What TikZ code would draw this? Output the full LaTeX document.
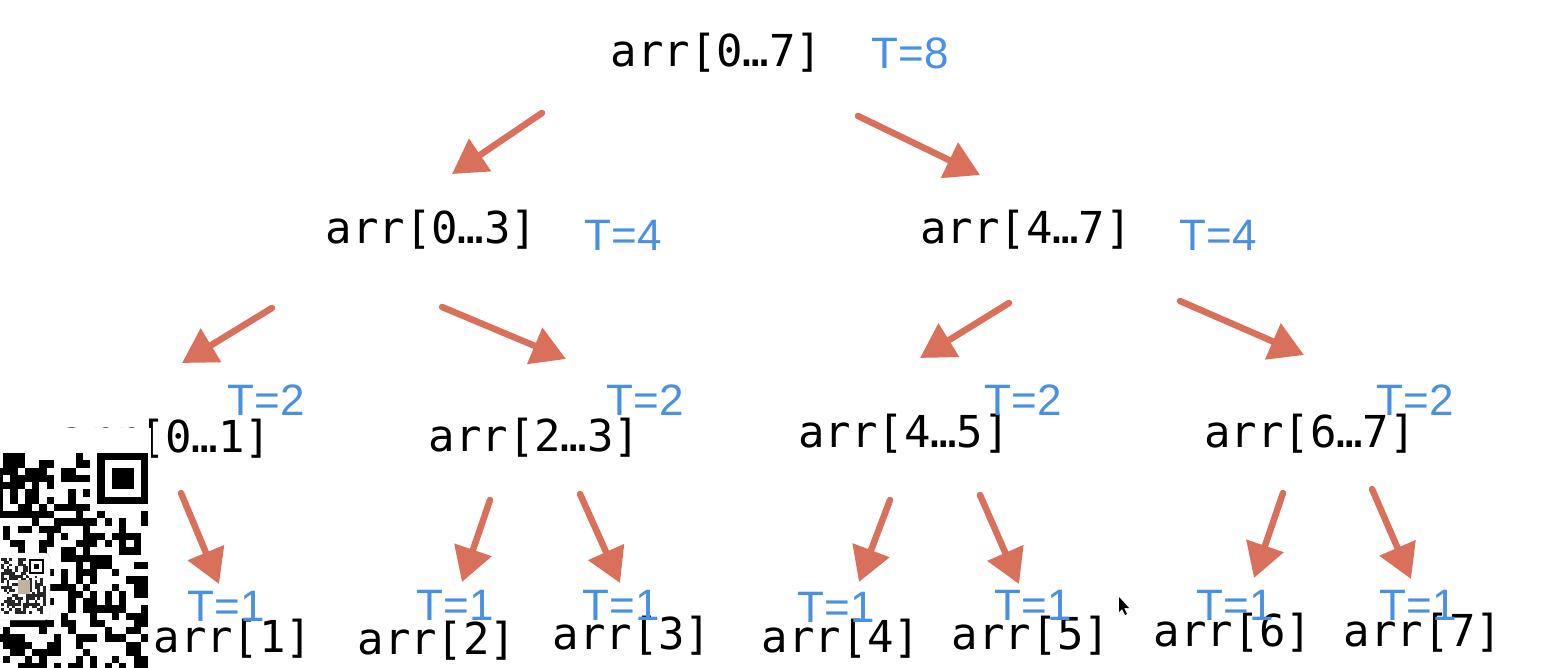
\documentclass[tikz,border=0pt]{standalone}
\usepackage{fontspec}
\newfontfamily\monof{DejaVu Sans Mono}
\newfontfamily\tfont{Liberation Sans}
\usetikzlibrary{arrows.meta}
\definecolor{arrowc}{RGB}{217,112,92}
\definecolor{tblue}{RGB}{74,144,226}
\tikzset{
  arrlbl/.style={font=\monof\fontsize{44}{50}\selectfont, inner sep=0pt, anchor=base, text=black},
  tlbl/.style={font=\tfont\fontsize{44}{50}\selectfont, inner sep=0pt, anchor=base, text=tblue},
  rec/.style={draw=arrowc, line width=6.5pt, -{Triangle[length=34pt,width=38pt]}, line cap=round}
}
\begin{document}
\begin{tikzpicture}[x=1pt,y=-1pt]
\useasboundingbox (0,0) rectangle (1544,668);
\fill[white] (0,0) rectangle (1544,668);
% level 0
\node[arrlbl] (n07) at (716.5,67) {arr[0…7]};
\node[tlbl] (t07) at (910,69) {T=8};
% level 1
\node[arrlbl] (n03) at (431.5,244) {arr[0…3]};
\node[tlbl] (t03) at (623,251) {T=4};
\node[arrlbl] (n47) at (1026,244) {arr[4…7]};
\node[tlbl] (t47) at (1218,251) {T=4};
% level 2
\node[arrlbl] (n01) at (165.5,452) {arr[0…1]};
\node[tlbl] (t01) at (266.5,415) {T=2};
\node[arrlbl] (n23) at (534.5,451) {arr[2…3]};
\node[tlbl] (t23) at (645,415) {T=2};
\node[arrlbl] (n45) at (904,447) {arr[4…5]};
\node[tlbl] (t45) at (1023,415) {T=2};
\node[arrlbl] (n67) at (1310,447) {arr[6…7]};
\node[tlbl] (t67) at (1415,415) {T=2};
% level 3
\node[arrlbl] (n1) at (233,652) {arr[1]};
\node[arrlbl] (n2) at (437,654) {arr[2]};
\node[arrlbl] (n3) at (632,649) {arr[3]};
\node[arrlbl] (n4) at (841,652) {arr[4]};
\node[arrlbl] (n5) at (1031,649) {arr[5]};
\node[arrlbl] (n6) at (1233,646) {arr[6]};
\node[arrlbl] (n7) at (1423,646) {arr[7]};
\node[tlbl] (t1) at (226,621) {T=1};
\node[tlbl] (t2) at (455,620) {T=1};
\node[tlbl] (t3) at (621,620) {T=1};
\node[tlbl] (t4) at (836,622) {T=1};
\node[tlbl] (t5) at (1033,620) {T=1};
\node[tlbl] (t6) at (1235,620) {T=1};
\node[tlbl] (t7) at (1418,620) {T=1};
% arrow end points
\coordinate (a1s) at (542,113); \coordinate (a1e) at (452,174);
\coordinate (a2s) at (858,116); \coordinate (a2e) at (980,175);
\coordinate (a3s) at (272,308); \coordinate (a3e) at (182,363);
\coordinate (a4s) at (442,307); \coordinate (a4e) at (566,359);
\coordinate (a5s) at (1009,303); \coordinate (a5e) at (920,358);
\coordinate (a6s) at (1180,301); \coordinate (a6e) at (1304,355);
\coordinate (a7s) at (181,493); \coordinate (a7e) at (219,584);
\coordinate (a8s) at (490,500); \coordinate (a8e) at (462,582);
\coordinate (a9s) at (580,494); \coordinate (a9e) at (620,583);
\coordinate (a10s) at (890,500); \coordinate (a10e) at (859,582);
\coordinate (a11s) at (980,495); \coordinate (a11e) at (1019,584);
\coordinate (a12s) at (1283,493); \coordinate (a12e) at (1254,578);
\coordinate (a13s) at (1372,489); \coordinate (a13e) at (1411,579);
\foreach \k in {1,...,13} { \draw[rec] (a\k s) -- (a\k e); }
% mouse pointer
\fill[black] (1119,597) -- (1119,612) -- (1122,609) -- (1125,615) -- (1127,614) -- (1124,608) -- (1129,608) -- cycle;
% QR code overlay
\fill[white] (0,428) rectangle (151,668);
\pgfmathsetseed{42}
\foreach \i in {0,...,20} {
  \foreach \j in {0,...,29} {
    \pgfmathrandominteger{\rr}{0}{1}
    \ifnum\rr=1
      \fill[black] ({148-(\i+1)*7.25},{453+\j*7.25}) rectangle ++(7.25,7.25);
    \fi
  }
}
\fill[white] ({148-8*7.25},445) rectangle (151,{453+8*7.25});
\fill[black] ({148-7*7.25},453) rectangle (148,{453+7*7.25});
\fill[white] ({148-6*7.25},{453+7.25}) rectangle ({148-7.25},{453+6*7.25});
\fill[black] ({148-5*7.25},{453+2*7.25}) rectangle ({148-2*7.25},{453+5*7.25});
% small embedded code
\fill[white, rounded corners=5pt] (-6,553) rectangle (50,620);
\draw[gray!40, rounded corners=5pt] (-6,553) rectangle (50,620);
\pgfmathsetseed{7}
\foreach \i in {0,...,15} {
  \foreach \j in {0,...,19} {
    \pgfmathrandominteger{\rr}{0}{1}
    \ifnum\rr=1
      \fill[black!85] ({1+\i*2.8},{558+\j*2.8}) rectangle ++(2.8,2.8);
    \fi
  }
}
\fill[white] (28,558) rectangle (46,576);
\draw[black, line width=2pt] (30,560) rectangle (43,573);
\fill[black] (34,564) rectangle (39,569);
\fill[gray!60!brown!60] (18,580) rectangle (30,594);
\end{tikzpicture}
\end{document}
